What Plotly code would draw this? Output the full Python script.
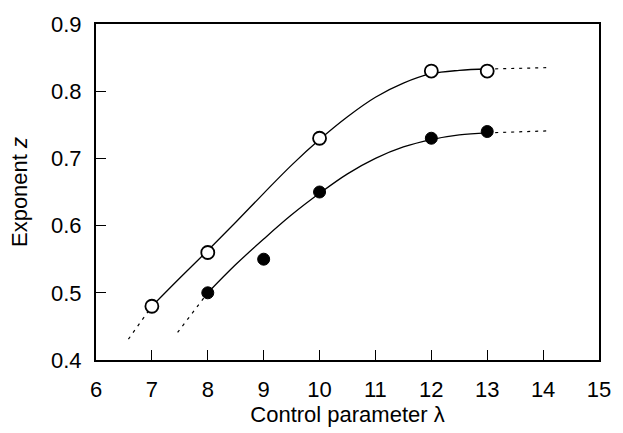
import plotly.graph_objects as go

# measured points
open_x = [7, 8, 10, 12, 13]
open_y = [0.48, 0.56, 0.73, 0.83, 0.83]
filled_x = [8, 9, 10, 12, 13]
filled_y = [0.50, 0.55, 0.65, 0.73, 0.74]

# fitted curves
open_fit_x = [7, 7.5, 8, 8.5, 9, 9.5, 10, 10.5, 11, 11.5, 12, 12.5, 13]
open_fit_y = [0.48, 0.522, 0.563, 0.605, 0.648, 0.690, 0.728, 0.762, 0.791, 0.812, 0.826, 0.831, 0.833]
open_ext_lo_x = [6.58, 7]
open_ext_lo_y = [0.431, 0.48]
open_ext_hi_x = [13, 14.06]
open_ext_hi_y = [0.833, 0.835]

filled_fit_x = [8, 8.5, 9, 9.5, 10, 10.5, 11, 11.5, 12, 12.5, 13]
filled_fit_y = [0.50, 0.542, 0.580, 0.616, 0.648, 0.677, 0.700, 0.717, 0.728, 0.735, 0.738]
filled_ext_lo_x = [7.46, 8]
filled_ext_lo_y = [0.441, 0.50]
filled_ext_hi_x = [13, 14.1]
filled_ext_hi_y = [0.738, 0.741]

x_ticks = [6, 7, 8, 9, 10, 11, 12, 13, 14, 15]
y_ticks = [0.4, 0.5, 0.6, 0.7, 0.8, 0.9]

fig = go.Figure()
line_solid = dict(color="black", width=1.3, shape="spline")
line_dash = dict(color="black", width=1.2, dash="3px,5px")

for fx, fy in [(open_fit_x, open_fit_y), (filled_fit_x, filled_fit_y)]:
    fig.add_trace(go.Scatter(x=fx, y=fy, mode="lines", line=line_solid, showlegend=False, hoverinfo="skip"))
for fx, fy in [(open_ext_lo_x, open_ext_lo_y), (open_ext_hi_x, open_ext_hi_y),
               (filled_ext_lo_x, filled_ext_lo_y), (filled_ext_hi_x, filled_ext_hi_y)]:
    fig.add_trace(go.Scatter(x=fx, y=fy, mode="lines", line=line_dash, showlegend=False, hoverinfo="skip"))

fig.add_trace(go.Scatter(x=open_x, y=open_y, mode="markers",
                         marker=dict(symbol="circle", size=13, color="white",
                                     line=dict(color="black", width=1.8)),
                         showlegend=False))
fig.add_trace(go.Scatter(x=filled_x, y=filled_y, mode="markers",
                         marker=dict(symbol="circle", size=12, color="black",
                                     line=dict(color="black", width=1)),
                         showlegend=False))

font = dict(family="Liberation Sans, Arial, sans-serif", size=22, color="black")
fig.update_layout(
    width=623, height=433,
    margin=dict(l=96, r=14, t=17, b=73),
    paper_bgcolor="white", plot_bgcolor="white",
    font=font,
    xaxis=dict(range=[6, 15], tickvals=x_ticks, ticks="inside", ticklen=10, tickwidth=1,
               tickcolor="black", showline=True, linecolor="black", linewidth=2,
               mirror=True, showgrid=False, zeroline=False, ticklabelstandoff=9,
               title=dict(text="Control parameter λ", standoff=0, font=font)),
    yaxis=dict(range=[0.4, 0.9], tickvals=y_ticks, tickformat=".1f", ticks="inside", ticklen=10,
               tickwidth=1, tickcolor="black", showline=True, linecolor="black", linewidth=2,
               mirror=True, showgrid=False, zeroline=False, ticklabelstandoff=8,
               title=dict(text="Exponent <i>z</i>", standoff=17, font=font)),
)
fig.write_html("out.html")
